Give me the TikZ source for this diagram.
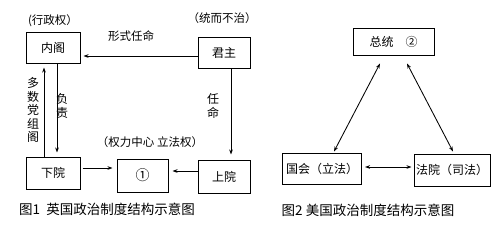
\documentclass[tikz,border=0pt]{standalone}
\usepackage{fontspec}
\setmainfont{Noto Sans CJK SC}
\usetikzlibrary{arrows.meta, positioning}

\begin{document}
\begin{tikzpicture}[x=1pt, y=-1pt, node distance=4pt, >={Stealth[length=5pt, width=3.6pt]}]
    \tikzstyle{box} = [rectangle, draw, line width=1pt, inner sep=2pt, minimum height=31pt, font=\fontsize{12}{14}\selectfont]
    \tikzstyle{lbl} = [inner sep=1pt, font=\fontsize{11.5}{13}\selectfont]
    \tikzstyle{vlbl} = [inner sep=1pt, align=center, font=\fontsize{12}{13.5}\selectfont]
    \tikzstyle{figcaption} = [inner sep=1pt, font=\fontsize{13.5}{15}\selectfont]
    \tikzstyle{line} = [draw, ->, line width=0.85pt]
    \tikzstyle{both} = [draw, <->, line width=0.85pt]
    \useasboundingbox (0,0) rectangle (502,231);

    % figure 1
    \node [box, minimum width=54pt] (neige) at (53,47.5) {内阁};
    \node [box, minimum width=52pt] (junzhu) at (224,52.5) {君主};
    \node [box, minimum width=54pt, minimum height=32pt] (xiayuan) at (53,173) {下院};
    \node [box, minimum width=51pt, minimum height=33pt, font=\fontsize{14}{15}\selectfont] (lifa) at (142.5,175.5) {①};
    \node [box, minimum width=52pt, minimum height=33pt] (shangyuan) at (224,176.5) {上院};

    \node [lbl, above=4pt of neige] (xingzheng) {(行政权）};
    \node [lbl] (tongzhi) at (222,18) {（统而不治）};
    \node [lbl] (xingshi) at (131,36) {形式任命};
    \node [vlbl] (duoshu) at (33,110) {多\\数\\党\\组\\阁};
    \node [vlbl] (fuze) at (62,106) {负\\责};
    \node [vlbl] (renming) at (213,106) {任\\命};
    \node [lbl] (zhongxin) at (150,142) {（权力中心 立法权）};

    \path [line, shorten >=3pt] ([yshift=-3.5pt]junzhu.west) -- ([yshift=-3.5pt]junzhu.west -| neige.east);
    \path [line, shorten >=4pt] ([xshift=-9pt]xiayuan.north) -- ([xshift=-9pt]xiayuan.north |- neige.south);
    \path [line, shorten >=4pt] ([xshift=4pt]neige.south) -- ([xshift=4pt]neige.south |- xiayuan.north);
    \path [line, shorten >=5pt] ([xshift=7pt]junzhu.south) -- ([xshift=7pt]junzhu.south |- shangyuan.north);
    \path [line, shorten <=2pt, shorten >=4pt] ([yshift=5pt]xiayuan.east) -- ([yshift=5pt]xiayuan.east -| lifa.west);
    \path [line, shorten >=4pt] ([yshift=5.5pt]shangyuan.west) -- ([yshift=5.5pt]shangyuan.west -| lifa.east);

    \node [figcaption] (tu1) at (107,209) {图1\ \ 英国政治制度结构示意图};

    % figure 2
    \node [box, minimum width=81pt, minimum height=27pt] (zongtong) at (393.5,41.5) {总统\quad ②};
    \node [box, minimum width=79pt] (guohui) at (322,168.5) {国会（立法）};
    \node [box, minimum width=76pt, minimum height=32pt] (fayuan) at (452,170) {法院（司法）};

    \path [both] ([xshift=-13.5pt, yshift=-8pt]zongtong.south) -- ([xshift=12pt, yshift=1pt]guohui.north);
    \path [both] ([xshift=13.5pt, yshift=-8pt]zongtong.south) -- ([xshift=1pt, yshift=2pt]fayuan.north);
    \path [both, shorten <=3pt, shorten >=2pt] ([yshift=1.5pt]guohui.east) -- ([yshift=1.5pt]guohui.east -| fayuan.west);

    \node [figcaption] (tu2) at (368,210) {图2 美国政治制度结构示意图};
\end{tikzpicture}
\end{document}
